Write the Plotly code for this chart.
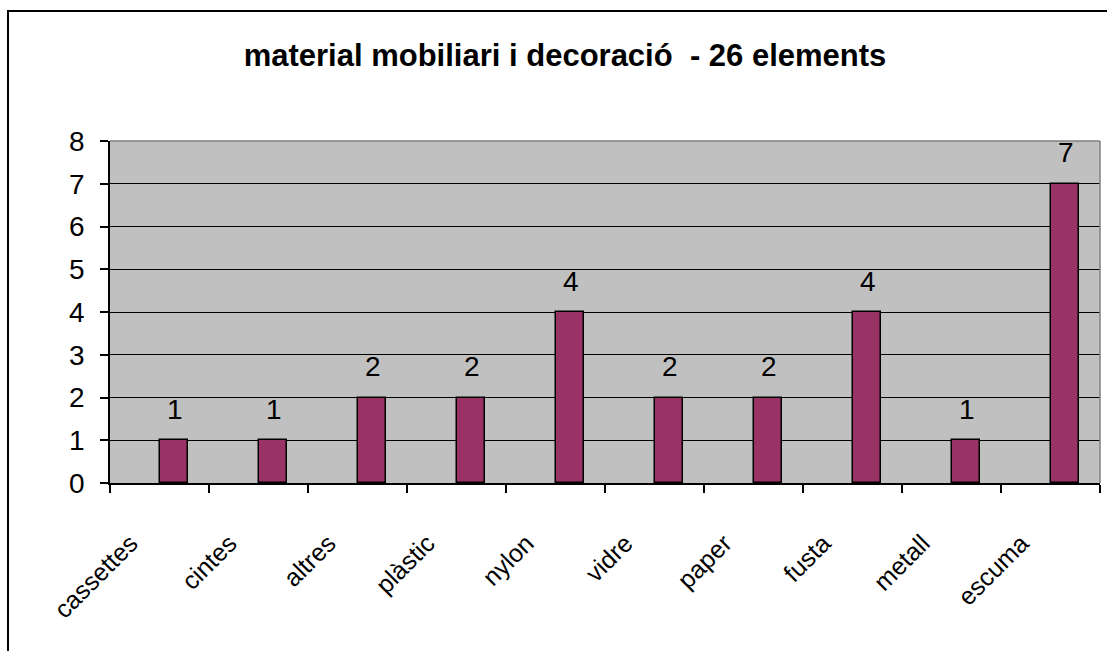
import plotly.graph_objects as go

categories = ["cassettes", "cintes", "altres", "plàstic", "nylon", "vidre", "paper", "fusta", "metall", "escuma"]
values = [1, 1, 2, 2, 4, 2, 2, 4, 1, 7]
y_ticks = [0, 1, 2, 3, 4, 5, 6, 7, 8]
title_text = "<b>material mobiliari i decoració  - 26 elements</b>"

FONT = "Arial, Liberation Sans, sans-serif"
W, H = 1107, 651
L, R, T, B = 110, 1100, 141, 483

fig = go.Figure()
fig.add_trace(go.Bar(
    x=categories, y=values,
    width=0.28, offset=0.01,
    marker=dict(color="#993366", line=dict(color="black", width=1.5)),
    hoverinfo="x+y",
))

for c, v in zip(categories, values):
    fig.add_annotation(x=c, y=v, text=str(v), showarrow=False,
                       xshift=15, yshift=31, yanchor="middle",
                       font=dict(family=FONT, size=28, color="black"))

def px_x(p):
    return (p - L) / (R - L)

def px_y(p):
    return (B - p) / (B - T)

shapes = [
    dict(type="rect", xref="paper", yref="paper",
         x0=px_x(8), x1=px_x(1112), y0=px_y(660), y1=px_y(11),
         line=dict(color="black", width=2), layer="above"),
    dict(type="line", xref="paper", yref="paper", x0=0, x1=1, y0=1, y1=1,
         line=dict(color="#808080", width=1.5)),
    dict(type="line", xref="paper", yref="paper", x0=1, x1=1, y0=0, y1=1,
         line=dict(color="#808080", width=1.5)),
]

fig.update_layout(
    width=W, height=H,
    margin=dict(l=L, r=W - R, t=T, b=H - B, pad=0),
    paper_bgcolor="white", plot_bgcolor="#C0C0C0",
    font=dict(family=FONT, color="black"),
    title=dict(text=title_text, x=565 / W, xanchor="center",
               y=1 - 55 / H, yanchor="middle",
               font=dict(family=FONT, size=31, color="black")),
    showlegend=False,
    bargap=0,
    shapes=shapes,
)
fig.update_xaxes(
    type="category", categoryorder="array", categoryarray=categories,
    showline=True, linecolor="black", linewidth=1.5,
    ticks="outside", tickson="boundaries", ticklen=8, tickcolor="black", tickwidth=1.5,
    tickangle=-45, tickfont=dict(family=FONT, size=25, color="black"),
    ticklabelstandoff=34, ticklabelshift=-29,
    showgrid=False, range=[-0.5, len(categories) - 0.5],
)
fig.update_yaxes(
    range=[0, 8], tickvals=y_ticks, showline=True, linecolor="black", linewidth=1.5,
    ticks="outside", ticklen=8, tickcolor="black", tickwidth=1.5,
    tickfont=dict(family=FONT, size=28, color="black"),
    ticklabelstandoff=10,
    showgrid=True, gridcolor="black", gridwidth=1.2, zeroline=False,
)

fig.write_html(
    "out.html",
    config={"displayModeBar": False},
    post_script="document.body.style.margin='0';document.body.style.overflow='hidden';",
)
